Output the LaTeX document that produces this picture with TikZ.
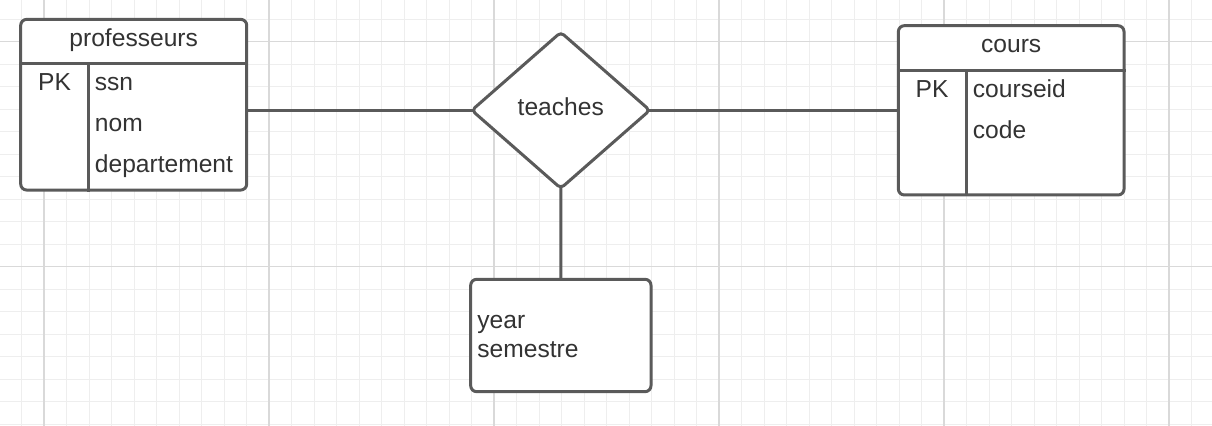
\documentclass[tikz,border=0pt]{standalone}
\usepackage{fontspec}
\setmainfont{Liberation Sans}
\usetikzlibrary{shapes.geometric}
\definecolor{gridminor}{HTML}{EEEEEE}
\definecolor{gridmajor}{HTML}{D9D9D9}
\definecolor{edgecol}{HTML}{5A5A5A}
\definecolor{txtcol}{HTML}{333333}
\tikzset{
  shapeline/.style={draw=edgecol, line width=1.5pt, line join=round},
  entbox/.style={shapeline, fill=white, rounded corners=3pt, inner sep=0pt, rectangle},
  reldia/.style={shapeline, fill=white, diamond, rounded corners=2pt, inner sep=0pt, outer sep=0pt, minimum width=89pt, minimum height=78pt},
  txt/.style={text=txtcol, inner sep=0pt, font=\fontsize{12.3}{14}\selectfont},
  conn/.style={draw=edgecol, line width=1.5pt},
}
\begin{document}
\begin{tikzpicture}[x=0.5pt,y=-0.5pt]
\fill[white] (0,0) rectangle (1212,426);
\useasboundingbox (0,0) rectangle (1212,426);
% grid
\foreach \i in {0,...,54} {
  \draw[gridminor, line width=0.5pt] ({-1+22.5*\i},0) -- ({-1+22.5*\i},426);
}
\foreach \j in {0,...,19} {
  \draw[gridminor, line width=0.5pt] (0,{-3.3+22.5*\j}) -- (1212,{-3.3+22.5*\j});
}
\foreach \i in {0,...,5} {
  \draw[gridmajor, line width=0.8pt] ({44+225*\i},0) -- ({44+225*\i},426);
}
\foreach \j in {0,1} {
  \draw[gridmajor, line width=0.8pt] (0,{41.7+225*\j}) -- (1212,{41.7+225*\j});
}
% professeurs
\node[entbox, minimum width=113pt, minimum height=85.35pt] (prof) at (133.7,104.7) {};
\coordinate (profsep) at (0,64);
\coordinate (profdiv) at (88.3,0);
\draw[conn] (prof.west |- profsep) -- (prof.east |- profsep);
\draw[conn] (profdiv |- profsep) -- (profdiv |- prof.south);
\node[txt, anchor=base] (proft) at (133.7,46.7) {professeurs};
\node[txt, anchor=base] (profpk) at (54.5,90.7) {PK};
\node[txt, anchor=base west] (profa1) at (94.5,90.7) {ssn};
\node[txt, anchor=base west] (profa2) at (94.5,131.7) {nom};
\node[txt, anchor=base west] (profa3) at (94.5,172.7) {departement};
% cours
\node[entbox, minimum width=112.85pt, minimum height=84.65pt] (cours) at (1011.2,110.35) {};
\coordinate (courssep) at (0,71);
\coordinate (coursdiv) at (966,0);
\draw[conn] (cours.west |- courssep) -- (cours.east |- courssep);
\draw[conn] (coursdiv |- courssep) -- (coursdiv |- cours.south);
\node[txt, anchor=base] (courst) at (1011.2,52.7) {cours};
\node[txt, anchor=base] (courspk) at (932,97.3) {PK};
\node[txt, anchor=base west] (coursa1) at (972.5,97.3) {courseid};
\node[txt, anchor=base west] (coursa2) at (972.5,138.3) {code};
% relationship
\node[reldia] (dia) at (560.8,110.3) {};
\node[txt, anchor=base] (diat) at (560.8,116) {teaches};
% attribute box
\node[entbox, minimum width=90.15pt, minimum height=56.2pt] (attr) at (560.85,335.5) {};
\node[txt, anchor=base west] (attr1) at (477,328.3) {year};
\node[txt, anchor=base west] (attr2) at (477,357.3) {semestre};
% connectors
\draw[conn] (prof.east |- dia.west) -- ([xshift=0.9pt]dia.west);
\draw[conn] ([xshift=-0.9pt]dia.east) -- (cours.west |- dia.east);
\draw[conn] ([yshift=0.9pt]dia.south) -- (attr.north);
\end{tikzpicture}
\end{document}
